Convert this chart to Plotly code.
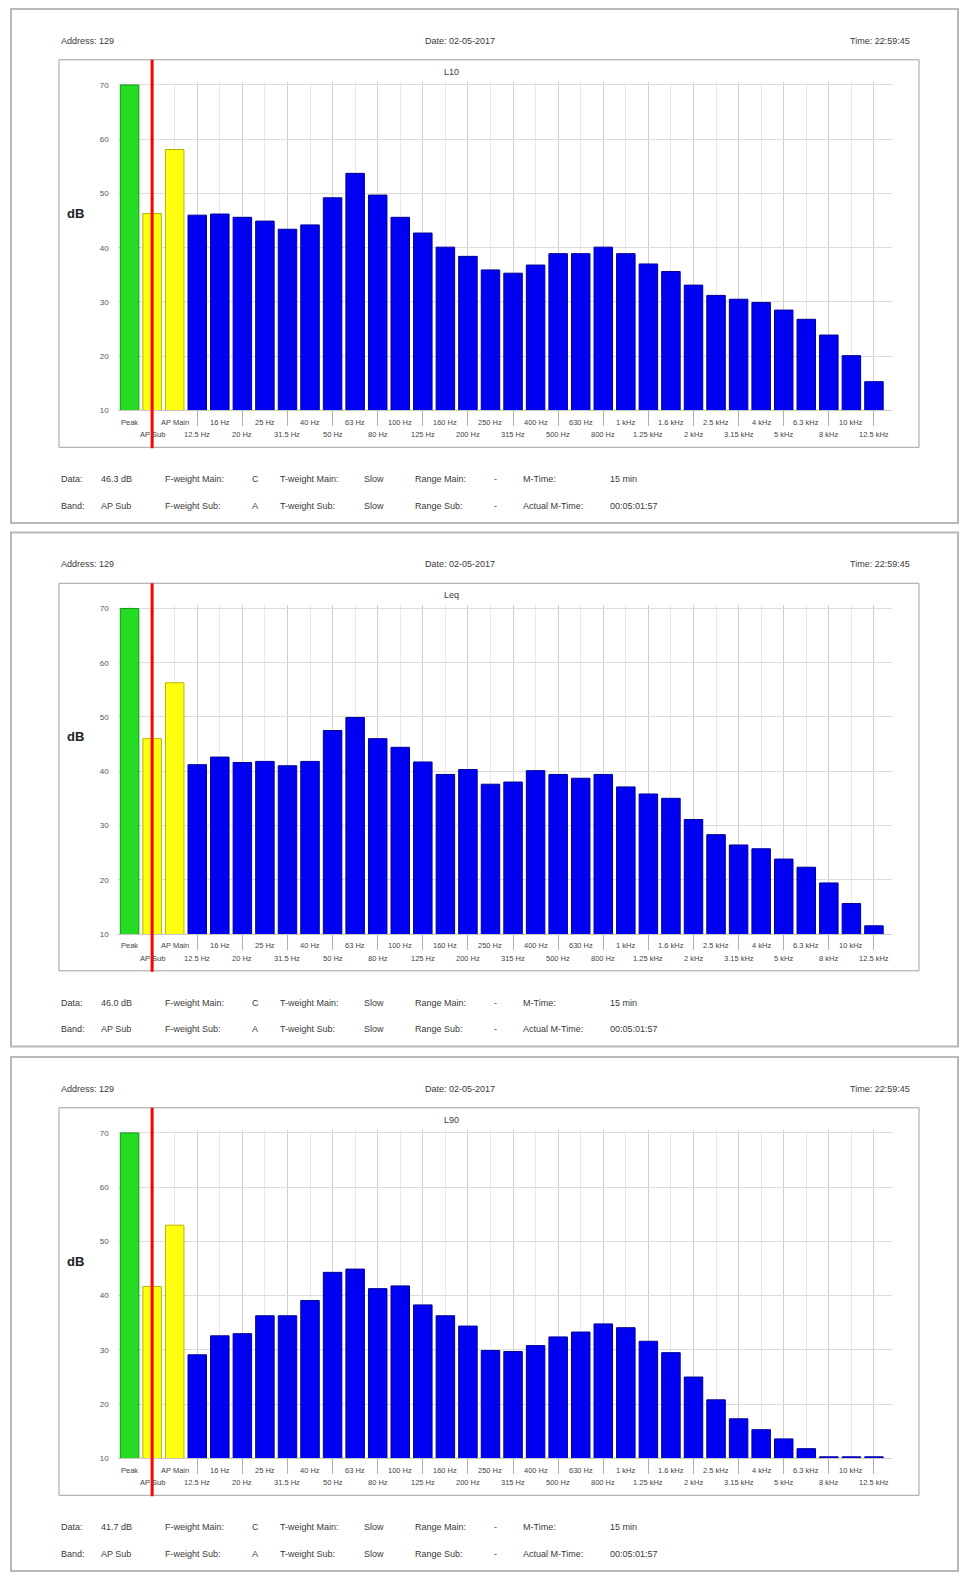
import plotly.graph_objects as go

W, H = 962, 1576

categories = ["Peak", "AP Sub", "AP Main", "12.5 Hz", "16 Hz", "20 Hz", "25 Hz", "31.5 Hz",
              "40 Hz", "50 Hz", "63 Hz", "80 Hz", "100 Hz", "125 Hz", "160 Hz", "200 Hz",
              "250 Hz", "315 Hz", "400 Hz", "500 Hz", "630 Hz", "800 Hz", "1 kHz", "1.25 kHz",
              "1.6 kHz", "2 kHz", "2.5 kHz", "3.15 kHz", "4 kHz", "5 kHz", "6.3 kHz", "8 kHz",
              "10 kHz", "12.5 kHz"]

panel_titles = ["L10", "Leq", "L90"]

l10_db = [70, 46.3, 58.1, 46.0, 46.2, 45.6, 44.9, 43.4, 44.2, 49.2, 53.7, 49.7, 45.6, 42.7,
          40.1, 38.4, 35.9, 35.3, 36.8, 38.9, 38.9, 40.1, 38.9, 37.0, 35.6, 33.1, 31.2, 30.5,
          29.9, 28.5, 26.8, 23.9, 20.1, 15.3]
leq_db = [70, 46.0, 56.3, 41.2, 42.6, 41.6, 41.8, 41.0, 41.8, 47.5, 49.9, 46.0, 44.4, 41.7,
          39.4, 40.3, 37.6, 38.0, 40.1, 39.4, 38.7, 39.4, 37.1, 35.8, 35.0, 31.1, 28.3, 26.4,
          25.7, 23.8, 22.3, 19.4, 15.6, 11.5]
l90_db = [70, 41.7, 53.0, 29.1, 32.6, 33.0, 36.3, 36.3, 39.1, 44.3, 44.9, 41.3, 41.8, 38.3,
          36.3, 34.4, 29.9, 29.7, 30.8, 32.4, 33.3, 34.8, 34.1, 31.6, 29.5, 25.0, 20.8, 17.3,
          15.3, 13.6, 11.8, 10.3, 10.3, 10.3]

data_readings = ["46.3 dB", "46.0 dB", "41.7 dB"]
y_ticks = [10, 20, 30, 40, 50, 60, 70]
y_tick_labels = ["10", "20", "30", "40", "50", "60", "70"]

address_text = "Address: 129"
date_text = "Date: 02-05-2017"
time_text = "Time: 22:59:45"
y_title = "dB"

row1_labels = ["Data:", "{data}", "F-weight Main:", "C", "T-weight Main:", "Slow",
               "Range Main:", "-", "M-Time:", "15 min"]
row2_labels = ["Band:", "AP Sub", "F-weight Sub:", "A", "T-weight Sub:", "Slow",
               "Range Sub:", "-", "Actual M-Time:", "00:05:01:57"]

series = [l10_db, leq_db, l90_db]

# ---- styling / layout ----
FONT = "Arial, Liberation Sans, sans-serif"
TXT = "#3a3a3a"
bar_colors = ["#24dc24", "#ffff10", "#ffff10"] + ["#0000f2"] * (len(categories) - 3)
bar_lines = ["#129a12", "#b8b400", "#b8b400"] + ["#00009a"] * (len(categories) - 3)
footer_x = [59, 99, 163, 250, 278, 362, 413, 492, 521, 608]
offsets = [0, 525.5, 1052]


def px(x):
    return x / W


def py(y):
    return 1 - y / H


fig = go.Figure()
shapes = []
annotations = []
n_cat = len(categories)
odd_idx = [i for i in range(n_cat) if i % 2 == 1]
even_idx = [i for i in range(n_cat) if i % 2 == 0]

for p, (vals, title, o) in enumerate(zip(series, panel_titles, offsets)):
    n = p + 1
    xa = "x" if n == 1 else f"x{n}"
    ya = "y" if n == 1 else f"y{n}"
    fig.add_trace(go.Bar(
        x=list(range(n_cat)), y=vals, xaxis=xa, yaxis=ya,
        marker=dict(color=bar_colors, line=dict(color=bar_lines, width=1)),
        width=0.82, showlegend=False, hoverinfo="skip",
    ))
    xkey = "xaxis" if n == 1 else f"xaxis{n}"
    ykey = "yaxis" if n == 1 else f"yaxis{n}"
    fig.layout[xkey] = dict(
        domain=[px(118.3), px(892)], range=[-0.5, 33.8], anchor=ya,
        tickmode="array", tickvals=odd_idx, ticktext=[""] * len(odd_idx),
        ticks="outside", ticklen=15, tickcolor="#b0b0b0", tickwidth=1,
        showgrid=True, gridcolor="rgba(150,150,150,0.45)", gridwidth=1,
        minor=dict(tickmode="array", tickvals=even_idx, showgrid=True,
                   gridcolor="rgba(200,200,200,0.40)", gridwidth=1, ticks=""),
        showline=True, linecolor="#c8c8c8", linewidth=1,
        zeroline=False, fixedrange=True, layer="above traces",
    )
    fig.layout[ykey] = dict(
        domain=[py(o + 411), py(o + 81)], range=[10, 70.6], anchor=xa,
        tickmode="array", tickvals=y_ticks, ticktext=y_tick_labels,
        tickfont=dict(size=8, color="#555", family=FONT),
        ticks="outside", ticklen=3, tickcolor="#ffffff", ticklabelstandoff=4,
        showgrid=True, gridcolor="#dcdcdc", gridwidth=1,
        showline=False, zeroline=False, fixedrange=True,
    )

    # outer panel frame
    shapes.append(dict(type="rect", xref="paper", yref="paper",
                       x0=px(11), x1=px(958), y0=py(o + 524), y1=py(o + 8),
                       line=dict(color="#b8b8b8", width=2), layer="below"))
    # chart box
    shapes.append(dict(type="rect", xref="paper", yref="paper",
                       x0=px(59), x1=px(919), y0=py(o + 448), y1=py(o + 59),
                       line=dict(color="#a0a0a0", width=1), layer="below"))
    # red marker line at AP Sub
    shapes.append(dict(type="line", xref=xa, yref="paper",
                       x0=1, x1=1, y0=py(o + 449), y1=py(o + 59),
                       line=dict(color="#ff0000", width=3), layer="above"))

    # header
    annotations.append(dict(text=address_text, x=px(59), y=py(o + 40), xref="paper", yref="paper",
                            xanchor="left", yanchor="middle", showarrow=False,
                            font=dict(size=9, color=TXT, family=FONT)))
    annotations.append(dict(text=date_text, x=px(460), y=py(o + 40), xref="paper", yref="paper",
                            xanchor="center", yanchor="middle", showarrow=False,
                            font=dict(size=9, color=TXT, family=FONT)))
    annotations.append(dict(text=time_text, x=px(912), y=py(o + 40), xref="paper", yref="paper",
                            xanchor="right", yanchor="middle", showarrow=False,
                            font=dict(size=9, color=TXT, family=FONT)))
    # title
    annotations.append(dict(text=title, x=px(451), y=py(o + 71), xref="paper", yref="paper",
                            xanchor="center", yanchor="middle", showarrow=False,
                            font=dict(size=9, color=TXT, family=FONT)))
    # dB axis label
    annotations.append(dict(text=f"<b>{y_title}</b>", x=px(75), y=py(o + 129 + 84.3), xref="paper",
                            yref="paper", xanchor="center", yanchor="middle", showarrow=False,
                            font=dict(size=13, color="#222", family=FONT)))
    # category labels (two staggered rows)
    for i, lab in enumerate(categories):
        row_y = o + 423 if i % 2 == 0 else o + 435.5
        annotations.append(dict(text=lab, x=i, xref=xa, y=py(row_y), yref="paper",
                                xanchor="center", yanchor="middle", showarrow=False,
                                font=dict(size=7.5, color="#444", family=FONT)))
    # footer rows
    for lab, x in zip(row1_labels, footer_x):
        t = lab.replace("{data}", data_readings[p])
        annotations.append(dict(text=t, x=px(x), y=py(o + 480), xref="paper", yref="paper",
                                xanchor="left", yanchor="middle", showarrow=False,
                                font=dict(size=9, color=TXT, family=FONT)))
    for lab, x in zip(row2_labels, footer_x):
        annotations.append(dict(text=lab, x=px(x), y=py(o + 506.5), xref="paper", yref="paper",
                                xanchor="left", yanchor="middle", showarrow=False,
                                font=dict(size=9, color=TXT, family=FONT)))

fig.update_layout(
    width=W, height=H, autosize=False,
    margin=dict(l=0, r=0, t=0, b=0, pad=0),
    paper_bgcolor="white", plot_bgcolor="white",
    bargap=0.18, shapes=shapes, annotations=annotations,
    font=dict(family=FONT),
)

fig.write_html("out.html", config={"displayModeBar": False, "staticPlot": True},
               post_script="document.body.style.margin='0';")
